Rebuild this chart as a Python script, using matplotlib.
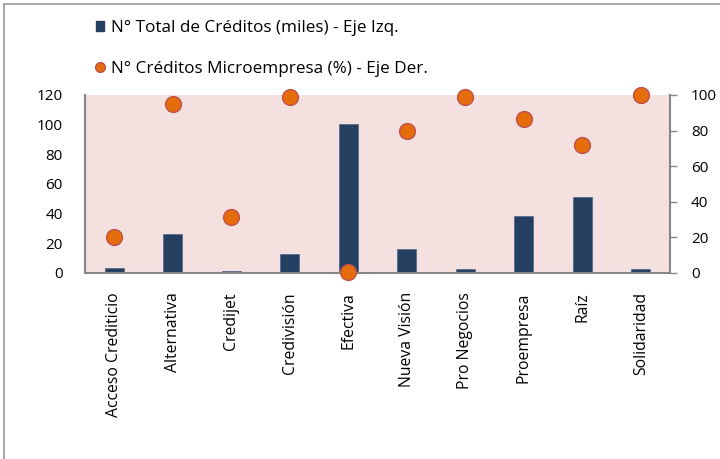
import matplotlib
matplotlib.use("Agg")
import matplotlib.pyplot as plt
from matplotlib.lines import Line2D
from matplotlib.patches import Patch
import numpy as np

categories = ["Acceso Crediticio", "Alternativa", "Credijet", "Credivisión", "Efectiva",
              "Nueva Visión", "Pro Negocios", "Proempresa", "Raíz", "Solidaridad"]
total_creditos = [3.5, 26, 1, 12.7, 100.5, 16, 2.3, 38.6, 51, 2.5]
pct_micro = [20, 95, 31.3, 99, 0.3, 80, 98.7, 86.3, 72, 100]
label_bar = "N° Total de Créditos (miles) - Eje Izq."
label_dot = "N° Créditos Microempresa (%) - Eje Der."

plt.rcParams['font.family'] = ['Open Sans', 'DejaVu Sans']

fig = plt.figure(figsize=(7.2, 4.59), dpi=100)
ax = fig.add_axes([85/720, 1-272.7/459, 585/720, 177.7/459])
ax.set_facecolor("#F5E0E0")
x = np.arange(len(categories))
ax.bar(x, total_creditos, width=0.33, color="#243F60", edgecolor="#4A6688", linewidth=0.5, zorder=2)
ax.set_xlim(-0.5, len(categories)-0.5)
ax.set_ylim(0, 120)
ax.set_yticks(np.arange(0, 121, 20))
ax.set_xticks(x)
ax.set_xticklabels(categories, rotation=90, fontsize=11.3)
ax.tick_params(axis='x', length=0, pad=14)
ax.tick_params(axis='y', length=0, pad=16, labelsize=11)
for s in ['top', 'right']:
    ax.spines[s].set_visible(False)
for s in ['left', 'bottom']:
    ax.spines[s].set_color("#868686")
    ax.spines[s].set_linewidth(1.5)

ax2 = ax.twinx()
ax2.scatter(x, pct_micro, s=130, color="#E46C0A", edgecolors="#C0504D", linewidths=1, zorder=3, clip_on=False)
ax2.set_ylim(0, 100)
ax2.set_yticks(np.arange(0, 101, 20))
ax2.tick_params(axis='y', length=5, width=1, color="#868686", pad=10, labelsize=11)
for s in ['top', 'left', 'bottom']:
    ax2.spines[s].set_visible(False)
ax2.spines['right'].set_color("#868686")
ax2.spines['right'].set_linewidth(1.5)

handles = [Patch(facecolor="#243F60", edgecolor="#243F60"),
           Line2D([], [], marker='o', linestyle='none', markersize=7,
                  markerfacecolor="#E46C0A", markeredgecolor="#C0504D")]
fig.legend(handles, [label_bar, label_dot], loc='upper left', bbox_to_anchor=(96/720, 1-20/459),
           frameon=False, fontsize=12.3, handlelength=0.45, handleheight=0.45, handletextpad=0.45,
           labelspacing=1.45, borderaxespad=0, borderpad=0)

# outer chart border (left and top)
fig.add_artist(Line2D([4/720, 4/720], [0, 1-4/459], color="#9A9A9A", lw=1.2, transform=fig.transFigure))
fig.add_artist(Line2D([4/720, 1], [1-4/459, 1-4/459], color="#9A9A9A", lw=1.2, transform=fig.transFigure))

fig.savefig("out.png", dpi=100, facecolor="white")
